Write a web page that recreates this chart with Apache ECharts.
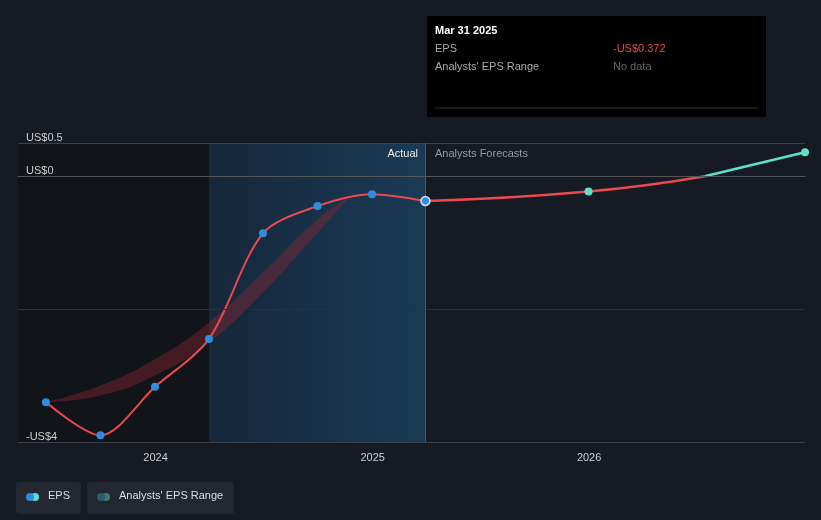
<!DOCTYPE html><html><head><meta charset="utf-8">
<script src="https://cdn.jsdelivr.net/npm/echarts@6/dist/echarts.min.js"></script>
<style>html,body{margin:0;background:#151a23}#c{width:821px;height:520px}</style></head><body><div id="c"></div>
<script>
const actualDates=['2023-06-30','2023-09-30','2023-12-31','2024-03-31','2024-06-30','2024-09-30','2024-12-31','2025-03-31'];
const actualEps=[-3.4,-3.9,-3.17,-2.45,-0.86,-0.45,-0.27,-0.372];
const fcDates=['2025-03-31','2025-12-31','2026-07-15'];
const fcEps=[-0.372,-0.23,0.0];
const fcDates2=['2026-07-15','2026-12-31'];
const fcEps2=[0.0,0.36];
const rangeDates=['2023-06-30','2023-09-30','2023-12-31','2024-03-31','2024-06-30','2024-09-30','2024-11-25'];
const rangeLow=[-3.4,-3.3,-3.0,-2.5,-1.75,-0.85,-0.3];
const rangeHigh=[-3.4,-3.15,-2.75,-2.2,-1.45,-0.65,-0.3];
const yLabels={'0.5':'US$0.5','0':'US$0','-4':'-US$4'};
const ch=echarts.init(document.getElementById('c'));
const pair=(d,v)=>d.map((x,i)=>[x,v[i]]);
ch.setOption({
 backgroundColor:'#151a23',animation:false,
 grid:{left:18,right:16,top:143,bottom:78},
 xAxis:{type:'time',min:'2023-05-14',max:'2026-12-31',axisLine:{lineStyle:{color:'#555'}},axisTick:{show:false},splitLine:{show:false},z:5,
  axisLabel:{color:'#ccc',fontSize:11,formatter:v=>{const d=new Date(v);return (d.getMonth()===0&&d.getDate()===1)?String(d.getFullYear()):'';},margin:10}},
 yAxis:{type:'value',min:-4,max:0.5,interval:0.5,axisLine:{show:false},axisTick:{show:false},z:5,
  splitLine:{lineStyle:{color:['#3a3e46','transparent','transparent','transparent','#2c3038','transparent','transparent','transparent','#c8c8c8','#3a3e46']}},
  axisLabel:{inside:true,verticalAlign:'bottom',color:'#ccc',fontSize:11,margin:8,formatter:v=>yLabels[String(v)]||''}},
 series:[
  {type:'line',data:[],z:-5,zlevel:0,markArea:{silent:true,z:-5,data:[
    [{xAxis:'2023-05-14',itemStyle:{color:'#111419'}},{xAxis:'2024-03-31'}],
    [{xAxis:'2024-03-31',itemStyle:{color:new echarts.graphic.LinearGradient(0,0,1,0,[{offset:0,color:'#16273a'},{offset:1,color:'#1a3a55'}])}},{xAxis:'2025-03-31'}]]},
   markLine:{silent:true,symbol:'none',label:{show:false},lineStyle:{color:'#555',type:'solid',width:1},data:[{xAxis:'2025-03-31'}]}},
  {type:'line',stack:'r',stackStrategy:'all',data:pair(rangeDates,rangeLow),symbol:'none',smooth:true,lineStyle:{width:0},areaStyle:{opacity:0}},
  {type:'line',stack:'r',stackStrategy:'all',data:rangeDates.map((d,i)=>[d,+(rangeHigh[i]-rangeLow[i]).toFixed(2)]),symbol:'none',smooth:true,lineStyle:{width:0},areaStyle:{color:'rgba(150,40,50,0.55)'}},
  {type:'line',data:pair(actualDates,actualEps),smooth:0.3,lineStyle:{width:2,color:'#e84a4f'},symbol:'circle',symbolSize:8,itemStyle:{color:'#2e8de0',borderWidth:0},z:3},
  {type:'line',data:pair(fcDates,fcEps),smooth:true,lineStyle:{width:2.5,color:'#e84a4f'},symbol:'circle',
   itemStyle:{color:'#5de0c8'},symbolSize:(v,p)=>p.dataIndex===1?8:0,z:3},
  {type:'line',data:pair(fcDates2,fcEps2),lineStyle:{width:2.5,color:'#5de0c8'},symbol:'circle',symbolSize:(v,p)=>p.dataIndex===1?8:0,itemStyle:{color:'#5de0c8'},z:3},
  {type:'scatter',data:[['2025-03-31',-0.372]],symbolSize:9,itemStyle:{color:'#2e8de0',borderColor:'#fff',borderWidth:1.5},z:6}
 ],
 graphic:[
  {type:'text',x:418,y:148,z:10,style:{text:'Actual',fill:'#eee',fontSize:11,align:'right'}},
  {type:'text',x:435,y:148,z:10,style:{text:'Analysts Forecasts',fill:'#999',fontSize:11}},
  {type:'rect',shape:{x:427,y:16,width:339,height:101},style:{fill:'#000'}},
  {type:'line',shape:{x1:435,y1:108,x2:758,y2:108},style:{stroke:'#333'}},
  {type:'text',left:435,top:25,style:{text:'Mar 31 2025',fill:'#fff',fontSize:11,fontWeight:'bold'}},
  {type:'text',left:435,top:43,style:{text:'EPS',fill:'#aaa',fontSize:11}},
  {type:'text',left:613,top:43,style:{text:'-US$0.372',fill:'#e84a4f',fontSize:11}},
  {type:'text',left:435,top:61,style:{text:"Analysts' EPS Range",fill:'#aaa',fontSize:11}},
  {type:'text',left:613,top:61,style:{text:'No data',fill:'#666',fontSize:11}},
  {type:'rect',shape:{x:16,y:482,width:65,height:32,r:3},style:{fill:'#222730'}},
  {type:'circle',shape:{cx:35,cy:497,r:4},style:{fill:'#5de0c8'}},
  {type:'circle',shape:{cx:30,cy:497,r:4},style:{fill:'#2e8de0'}},
  {type:'text',left:48,top:490,style:{text:'EPS',fill:'#ddd',fontSize:11}},
  {type:'rect',shape:{x:87,y:482,width:147,height:32,r:3},style:{fill:'#222730'}},
  {type:'circle',shape:{cx:106,cy:497,r:4},style:{fill:'#3b7a72'}},
  {type:'circle',shape:{cx:101,cy:497,r:4},style:{fill:'#2d5a6e'}},
  {type:'text',left:119,top:490,style:{text:"Analysts' EPS Range",fill:'#ddd',fontSize:11}}
 ]
});
</script></body></html>
